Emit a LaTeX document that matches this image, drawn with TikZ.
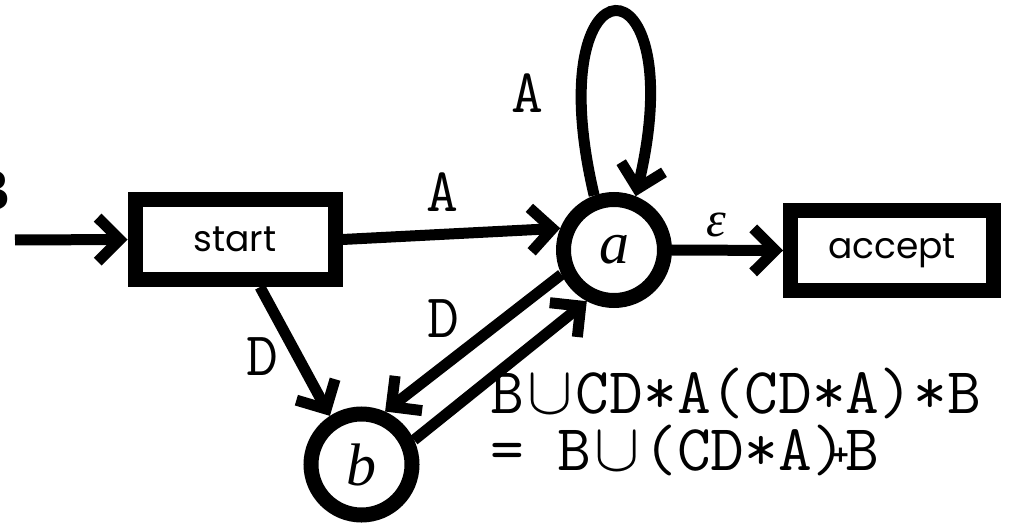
\documentclass[tikz,border=0pt]{standalone}
\usepackage{fontspec}
\newfontfamily\sansf{Poppins}
\newfontfamily\boldsf{Liberation Sans}
\newfontfamily\serifit{Liberation Serif}
\usetikzlibrary{arrows.meta}
\newcommand\cupg{\makebox[52pt]{\scalebox{6.8}{\fontsize{10}{12}\selectfont$\cup$}}}
\newcommand\plusg{\llap{\raisebox{6pt}{\boldsf\bfseries\fontsize{28}{28}\selectfont +}\kern-3pt}}
\begin{document}
\begin{tikzpicture}[x=1pt,y=-1pt,
  state/.style={circle,draw,line width=15pt,minimum size=101pt,inner sep=0pt,font=\serifit\itshape\fontsize{60}{60}\selectfont},
  box/.style={rectangle,draw,line width=15pt,inner sep=0pt,font=\sansf\fontsize{36}{36}\selectfont},
  edge/.style={line width=11pt,-{Straight Barb[length=22pt,width=44pt,sharp]}},
  lbl/.style={font=\ttfamily\fontsize{62}{62}\selectfont,inner sep=0pt},
  frm/.style={font=\ttfamily\fontsize{65.5}{65.5}\selectfont,inner sep=0pt,anchor=base west}]
\useasboundingbox (0,0) rectangle (1032,526);
\node[box,minimum width=200pt,minimum height=80pt] (start) at (235,239.5) {start};
\node[box,minimum width=203pt,minimum height=80pt] (accept) at (892,250.5) {accept};
\node[state] (a) at (614,250) {a};
\node[state] (b) at (361.5,464.5) {b};
\coordinate (in) at (15,240);
\node[anchor=east,inner sep=0pt,font=\boldsf\bfseries\fontsize{58}{58}\selectfont] (B) at (11,191) {B};
\draw[edge] (in) -- (start.west);
\draw[edge] (start.east) -- (a.158);
\draw[edge] (a.east) -- (accept.west);
\draw[edge] ([xshift=25pt]start.south) -- (b.123);
\draw[edge] (a.205) -- (b.66);
\draw[edge] (b.25) -- (a.242);
\draw[edge] (a.110) .. controls +(-58,-245) and +(58,-245) .. (a.68);
\node[lbl] (lA1) at (527,93) {A};
\node[lbl] (lA2) at (442,192) {A};
\node[lbl] (lD1) at (262,357) {D};
\node[lbl] (lD2) at (443,319) {D};
\node[font=\serifit\itshape\fontsize{50}{50}\selectfont,inner sep=0pt] (eps) at (716,225) {ε};
\node[frm] (f1) at (490,413) {B\cupg CD*A(CD*A)*B};
\node[frm] (f2) at (490,470) {= B\cupg(CD*A)\plusg B};
\end{tikzpicture}
\end{document}
